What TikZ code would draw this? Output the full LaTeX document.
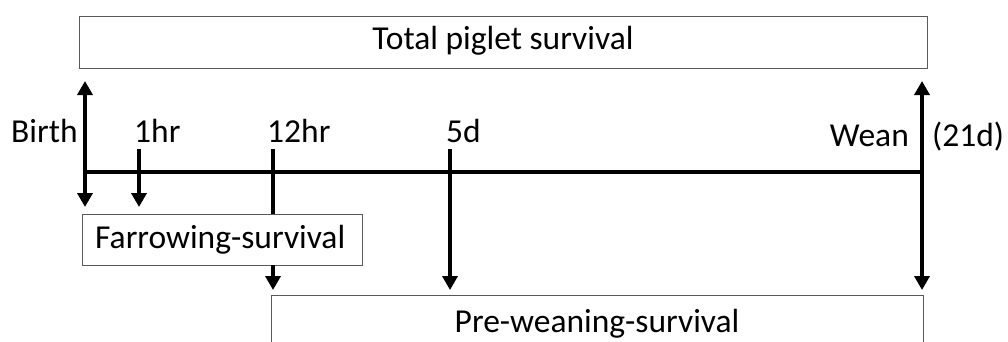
\documentclass[tikz,border=0pt]{standalone}
\usepackage{fontspec}
\setmainfont{Carlito}
\usetikzlibrary{arrows.meta}
\begin{document}
\begin{tikzpicture}[x=1pt,y=-1pt,
  box/.style={draw=black!65,line width=1.1pt,inner sep=0pt,anchor=north west},
  lbl/.style={inner sep=0pt,anchor=base west},
  tick/.style={line width=3.6pt,-{Triangle[width=15pt,length=14pt]}},
  dtick/.style={line width=3.6pt,{Triangle[width=15pt,length=14pt]}-{Triangle[width=15pt,length=14pt]}},
  axis/.style={line width=3.6pt}]
\useasboundingbox (0,0) rectangle (1008,341);
\clip (0,0) rectangle (1008,341);
\fontsize{33.5pt}{38pt}\selectfont
% boxes
\node[box,minimum width=848pt,minimum height=52pt] (total) at (79,16) {};
\node[inner sep=0pt,anchor=base] (totaltxt) at (503,49) {Total piglet survival};
\node[box,minimum width=280pt,minimum height=51pt] (farrow) at (82,214) {};
\node[lbl] (farrowtxt) at (95,248) {Farrowing-survival};
\node[box,minimum width=652pt,minimum height=80pt] (prewean) at (271,295) {};
\node[inner sep=0pt,anchor=base] (preweantxt) at (597,332) {Pre-weaning-survival};
% coordinates
\coordinate (b0) at (85,172);
\coordinate (bt) at (85,81);
\coordinate (bb) at (85,207);
\coordinate (h1t) at (139,149);
\coordinate (h1b) at (139,207);
\coordinate (h12t) at (273,149);
\coordinate (h12a) at (273,265);
\coordinate (h12b) at (273,290);
\coordinate (d5t) at (450,149);
\coordinate (d5b) at (450,290);
\coordinate (w0) at (922,172);
\coordinate (wt) at (922,81);
\coordinate (wb) at (922,290);
% axis and ticks
\draw[axis] (b0) -- (w0);
\draw[dtick] (bt) -- (bb);
\draw[tick] (h1t) -- (h1b);
\draw[axis] (h12t) -- (farrow.north -| h12t);
\draw[tick] (h12a) -- (h12b);
\draw[tick] (d5t) -- (d5b);
\draw[dtick] (wt) -- (wb);
% labels
\node[lbl] (birth) at (11,142) {Birth};
\node[lbl] (l1hr) at (134,142) {1hr};
\node[lbl] (l12hr) at (267,142) {12hr};
\node[lbl] (l5d) at (446,142) {5d};
\node[inner sep=0pt,anchor=base east] (wean) at (909,146) {Wean};
\node[lbl] (w21) at (932,146) {(21d)};
\end{tikzpicture}
\end{document}
